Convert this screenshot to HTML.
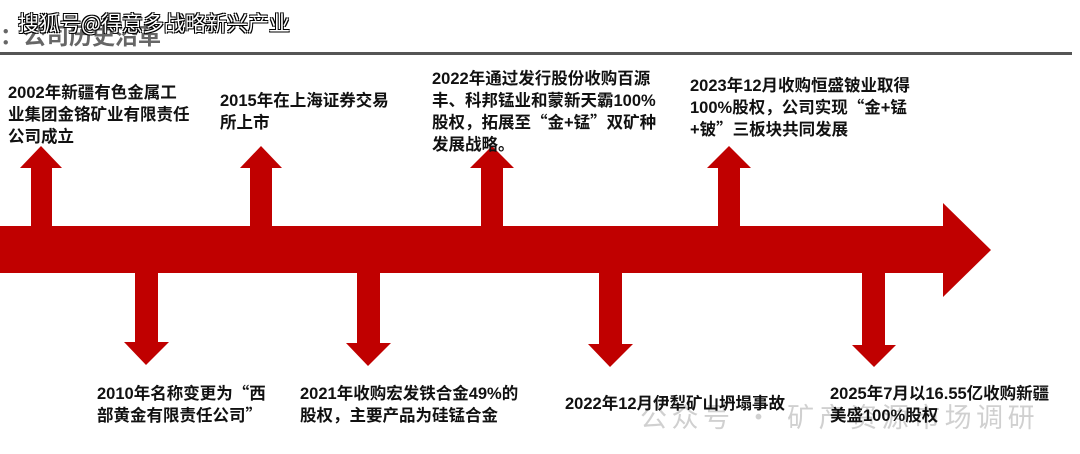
<!DOCTYPE html>
<html><head><meta charset="utf-8"><style>
body{margin:0;width:1080px;height:454px;background:#fff;position:relative;overflow:hidden;font-family:"Liberation Sans","Noto Sans CJK SC",sans-serif}
.t{position:absolute;font-size:16.5px;font-weight:bold;line-height:22px;color:#111;white-space:nowrap}
.q{font-family:"Noto Sans CJK SC",sans-serif;line-height:1}
</style></head><body>
<div style="position:absolute;left:0;top:17px;font-size:23px;font-weight:bold;color:#666;font-family:'Noto Sans CJK SC',sans-serif">：公司历史沿革</div>
<div style="position:absolute;left:18px;top:8px;font-size:21px;color:#fff;text-shadow:1px 1px 0 #000,-1px -1px 0 #000,1px -1px 0 #000,-1px 1px 0 #000;font-family:'Noto Sans CJK SC',sans-serif">搜狐号@得意多战略新兴产业</div>
<div style="position:absolute;left:0;top:52px;width:1072px;height:3px;background:#555"></div>
<svg style="position:absolute;left:0;top:0" width="1080" height="454">
<g fill="#c00000">
<polygon points="0,226 943,226 943,203 991,250 943,297 943,273 0,273"/>
<polygon points="31,226 31,168 20,168 41,146 62,168 52,168 52,226"/>
<polygon points="250,226 250,168 240,168 261,146 282,168 272,168 272,226"/>
<polygon points="481,226 481,168 470,168 492,146 514,168 503,168 503,226"/>
<polygon points="718,226 718,168 707,168 729,146 751,168 740,168 740,226"/>
<polygon points="135,273 135,342 124,342 146,365 169,342 158,342 158,273"/>
<polygon points="357,273 357,343 346,343 368,366 391,343 380,343 380,273"/>
<polygon points="599,273 599,344 588,344 610,367 633,344 622,344 622,273"/>
<polygon points="862,273 862,345 852,345 874,367 896,345 885,345 885,273"/>
</g></svg>
<div style="position:absolute;left:640px;top:396px;font-size:27px;color:rgba(150,150,150,0.45);font-family:'Noto Sans CJK SC',sans-serif;letter-spacing:4.5px">公众号 · 矿产资源市场调研</div>
<div class="t" style="left:8px;top:82px">2002年新疆有色金属工<br>业集团金铬矿业有限责任<br>公司成立</div>
<div class="t" style="left:220px;top:90px">2015年在上海证券交易<br>所上市</div>
<div class="t" style="left:432px;top:68px">2022年通过发行股份收购百源<br>丰、科邦锰业和蒙新天霸100%<br>股权，拓展至<span class="q">“</span>金+锰<span class="q">”</span>双矿种<br>发展战略。</div>
<div class="t" style="left:690px;top:75px">2023年12月收购恒盛铍业取得<br>100%股权，公司实现<span class="q">“</span>金+锰<br>+铍<span class="q">”</span>三板块共同发展</div>
<div class="t" style="left:97px;top:383px">2010年名称变更为<span class="q">“</span>西<br>部黄金有限责任公司<span class="q">”</span></div>
<div class="t" style="left:300px;top:383px">2021年收购宏发铁合金49%的<br>股权，主要产品为硅锰合金</div>
<div class="t" style="left:565px;top:393px">2022年12月伊犁矿山坍塌事故</div>
<div class="t" style="left:830px;top:383px">2025年7月以16.55亿收购新疆<br>美盛100%股权</div>
</body></html>
